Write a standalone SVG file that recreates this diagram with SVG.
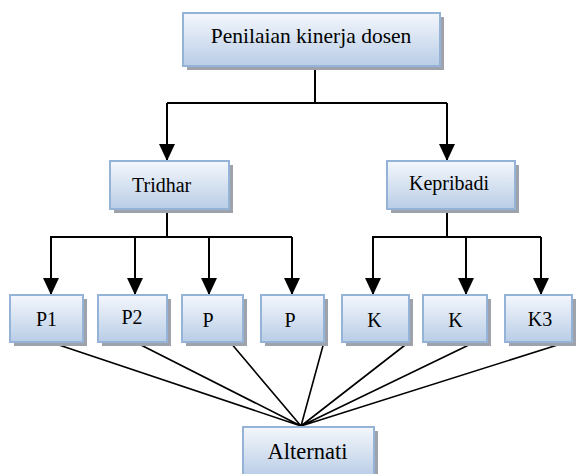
<svg xmlns="http://www.w3.org/2000/svg" width="578" height="474" viewBox="0 0 578 474">
<defs>
<linearGradient id="g" x1="0" y1="0" x2="0" y2="1">
<stop offset="0" stop-color="#f4f7fc"/>
<stop offset="1" stop-color="#b9cde6"/>
</linearGradient>
<marker id="ah" markerUnits="userSpaceOnUse" markerWidth="18" markerHeight="16" refX="16" refY="7.5" orient="auto" viewBox="0 0 16 15">
<path d="M0 0 L16 7.5 L0 15 Z" fill="#000"/>
</marker>
</defs>
<style>
.sh{fill:#9ea3ab}
.bx{fill:url(#g);stroke:#95b3d7;stroke-width:2}
.t{font-family:"Liberation Serif","Times New Roman",serif;font-size:20px;fill:#000}
.c{fill:none;stroke:#000;stroke-width:2}
.a{fill:none;stroke:#000;stroke-width:2;marker-end:url(#ah)}
.f{fill:none;stroke:#000;stroke-width:1.6}
</style>
<g id="connectors">
<path class="c" d="M315 67 V103 M167 103 H447"/>
<path class="a" d="M167 103 V161"/>
<path class="a" d="M447 103 V161"/>
<path class="c" d="M167 209 V237 M50 237 H292"/>
<path class="a" d="M51 237 V295"/>
<path class="a" d="M135 237 V295"/>
<path class="a" d="M209 237 V295"/>
<path class="a" d="M292 237 V295"/>
<path class="c" d="M447 209 V237 M372 237 H541"/>
<path class="a" d="M373 237 V295"/>
<path class="a" d="M466 237 V295"/>
<path class="a" d="M541 237 V295"/>
<path class="f" d="M50 342 L301 426 M135 342 L301 426 M230 342 L301 426 M324 342 L301 426 M409 342 L301 426 M475 342 L301 426 M567 342 L301 426"/>
</g>
<g id="top">
<rect class="sh" x="187" y="17" width="257" height="53"/>
<rect class="bx" x="183" y="13" width="257" height="53"/>
<text class="t" x="311" y="43" text-anchor="middle" style="font-size:21.5px">Penilaian kinerja dosen</text>
</g>
<g id="tridhar">
<rect class="sh" x="114" y="165" width="119" height="48"/>
<rect class="bx" x="110" y="161" width="119" height="48"/>
<text class="t" x="132" y="192">Tridhar</text>
</g>
<g id="kepribadi">
<rect class="sh" x="391" y="165" width="128" height="48"/>
<rect class="bx" x="387" y="161" width="128" height="48"/>
<text class="t" x="409" y="190">Kepribadi</text>
</g>
<g id="p1">
<rect class="sh" x="14" y="299" width="73" height="47"/>
<rect class="bx" x="10" y="295" width="73" height="47"/>
<text class="t" x="46.5" y="326" text-anchor="middle">P1</text>
</g>
<g id="p2">
<rect class="sh" x="102" y="299" width="69" height="47"/>
<rect class="bx" x="98" y="295" width="69" height="47"/>
<text class="t" x="132" y="324" text-anchor="middle">P2</text>
</g>
<g id="p3">
<rect class="sh" x="186" y="299" width="61" height="47"/>
<rect class="bx" x="182" y="295" width="61" height="47"/>
<text class="t" x="208" y="327" text-anchor="middle">P</text>
</g>
<g id="p4">
<rect class="sh" x="265" y="299" width="63" height="47"/>
<rect class="bx" x="261" y="295" width="63" height="47"/>
<text class="t" x="290" y="327" text-anchor="middle">P</text>
</g>
<g id="k1">
<rect class="sh" x="346" y="299" width="67" height="47"/>
<rect class="bx" x="342" y="295" width="67" height="47"/>
<text class="t" x="374.5" y="327" text-anchor="middle">K</text>
</g>
<g id="k2">
<rect class="sh" x="427" y="299" width="64" height="47"/>
<rect class="bx" x="423" y="295" width="64" height="47"/>
<text class="t" x="455.5" y="327" text-anchor="middle">K</text>
</g>
<g id="k3">
<rect class="sh" x="509" y="299" width="67" height="47"/>
<rect class="bx" x="505" y="295" width="67" height="47"/>
<text class="t" x="540" y="326" text-anchor="middle">K3</text>
</g>
<g id="alternati">
<rect class="sh" x="247" y="431" width="131" height="50"/>
<rect class="bx" x="243" y="427" width="131" height="50"/>
<text class="t" x="307.5" y="459" text-anchor="middle" style="font-size:22.5px">Alternati</text>
</g>
</svg>
